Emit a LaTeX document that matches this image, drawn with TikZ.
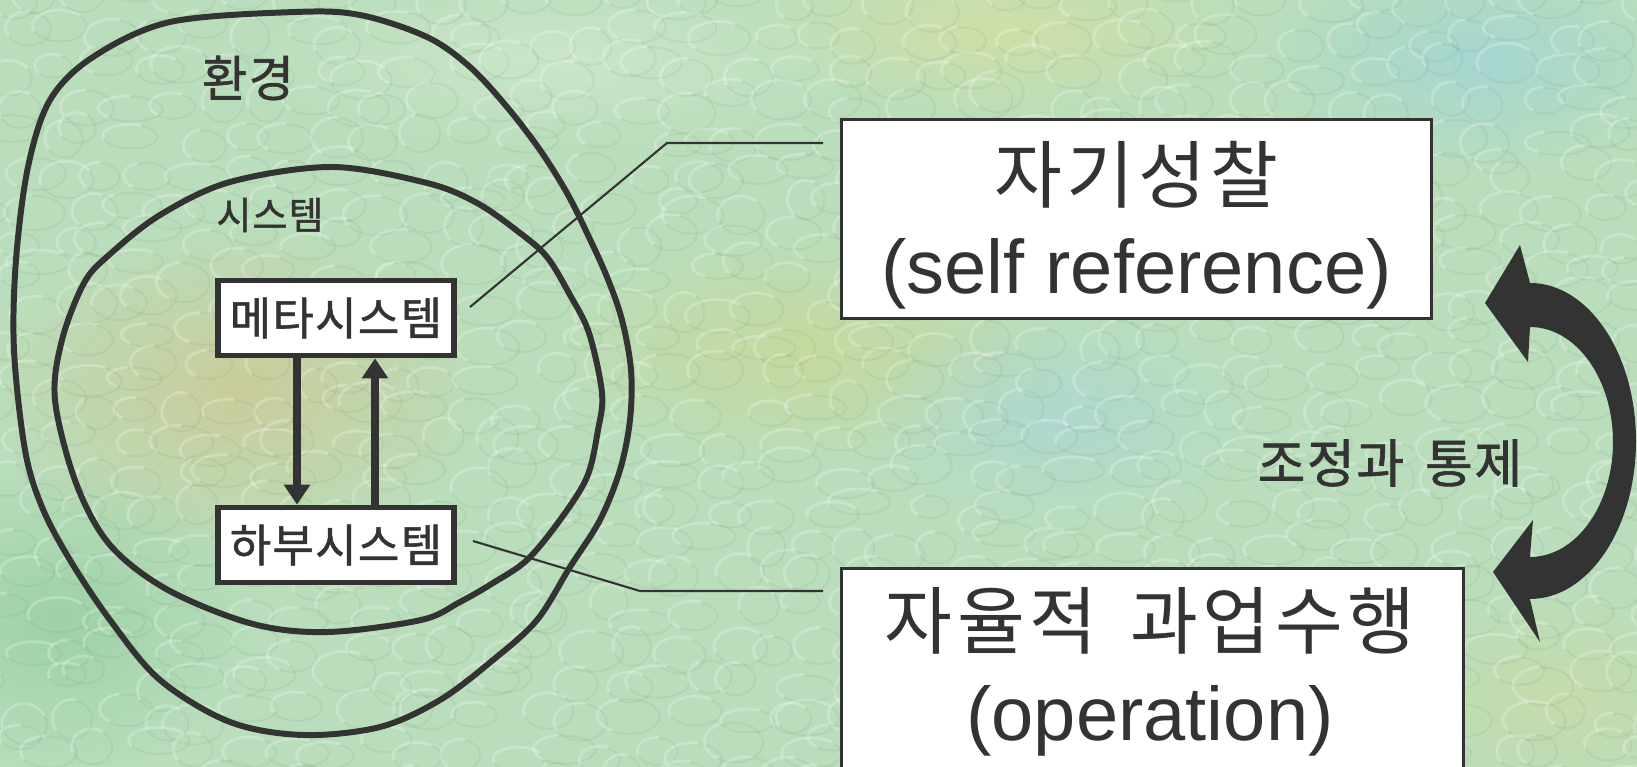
\documentclass[tikz,border=0pt]{standalone}
\usepackage{fontspec}
\setmainfont{Liberation Sans}
\newfontfamily\kr[FakeBold=1.2,LetterSpace=3]{Noto Sans CJK KR}
\newfontfamily\krwide[LetterSpace=6]{Noto Sans CJK KR}
\usetikzlibrary{arrows.meta,fadings}
\tikzfading[name=softspot,inner color=transparent!0,outer color=transparent!100]
\definecolor{ink}{RGB}{51,51,51}
\definecolor{bgbase}{RGB}{186,222,188}
\definecolor{ochre}{RGB}{206,200,146}
\definecolor{lime}{RGB}{200,216,150}
\definecolor{straw}{RGB}{214,222,160}
\definecolor{sky}{RGB}{160,212,214}
\definecolor{teal}{RGB}{172,214,212}
\definecolor{mint}{RGB}{208,232,204}
\definecolor{moss}{RGB}{150,206,162}
\definecolor{sage}{RGB}{200,218,168}
\definecolor{shadow}{RGB}{90,130,95}
\tikzset{
  blob/.style={fill=#1,path fading=softspot,fill opacity=0.8},
  cellglow/.style={draw=white,line width=0.8pt,draw opacity=0.24,line cap=round},
  cellshade/.style={draw=shadow,line width=0.6pt,draw opacity=0.09,line cap=round},
  rim/.style={draw=ink,line width=1.7pt},
  sysbox/.style={draw=ink,line width=1.6pt,fill=white,minimum width=23.6mm,minimum height=7.5mm,inner sep=0pt,text=ink,font=\kr\fontsize{12.8pt}{15pt}\selectfont},
  bigbox/.style={draw=ink,line width=0.9pt,fill=white,inner sep=0pt},
  bigtext/.style={align=center,inner sep=0pt,text=ink,font=\fontsize{21.6pt}{26pt}\selectfont},
  flow/.style={draw=ink,line width=2pt,-{Triangle[length=5.7pt,width=7.2pt]}},
  leader/.style={draw=ink,line width=0.6pt},
}

\begin{document}
\begin{tikzpicture}[x=0.1mm,y=-0.1mm]
\useasboundingbox (0,0) rectangle (1637,767);
\fill[bgbase] (0,0) rectangle (1637,767);
\fill[blob=ochre] (240,390) ellipse (260 and 170);
\fill[blob=lime] (800,350) ellipse (260 and 120);
\fill[blob=straw] (1000,30) ellipse (260 and 90);
\fill[blob=sky] (1480,60) ellipse (220 and 110);
\fill[blob=teal] (1060,420) ellipse (200 and 110);
\fill[blob=mint] (560,60) ellipse (320 and 90);
\fill[blob=moss] (60,620) ellipse (200 and 160);
\fill[blob=sage] (1560,700) ellipse (200 and 120);
% pebbled surface: lit upper rim and shaded lower rim of each cell
\pgfmathsetseed{11}
\foreach \i in {0,...,35}
  \foreach \j in {0,...,23} {
    \pgfmathsetmacro\cx{\i*47+mod(\j,2)*23+rand*20}
    \pgfmathsetmacro\cy{\j*34+rand*12}
    \pgfmathsetmacro\rx{18+rnd*14}
    \pgfmathsetmacro\ry{11+rnd*9}
    \pgfmathsetmacro\sa{120+rnd*50}
    \pgfmathsetmacro\ea{\sa+110+rnd*60}
    \pgfmathsetmacro\ax{\cx+\rx*cos(\sa)}
    \pgfmathsetmacro\ay{\cy+\ry*sin(\sa)}
    \pgfmathsetmacro\bx{\cx+\rx*cos(\ea)+1}
    \pgfmathsetmacro\by{\cy+\ry*sin(\ea)+1}
    \draw[cellglow] (\ax,\ay) arc[start angle=\sa,end angle=\ea,x radius=\rx,y radius=\ry];
    \draw[cellshade] (\bx,\by) arc[start angle=\ea,end angle=\sa+360,x radius=\rx,y radius=\ry];
  }

\draw[rim] plot[smooth cycle,tension=0.55] coordinates {(295,12) (360,15) (427,37) (470,67) (507,107) (540,150) (567,193) (587,233) (607,277) (622,320) (631,370) (630,420) (620,470) (600,520) (570,567) (537,620) (493,660) (440,700) (380,727) (303,735) (230,722) (160,680) (110,620) (70,560) (42,507) (25,450) (14,350) (16,260) (28,167) (50,100) (93,57) (170,22)};
\draw[rim] plot[smooth cycle,tension=0.55] coordinates {(332,167) (427,183) (477,203) (520,233) (547,257) (570,295) (589,333) (602,393) (598,430) (587,477) (560,520) (527,560) (493,583) (460,602) (421,620) (328,632) (253,624) (168,590) (110,545) (76,483) (55,400) (62,340) (84,283) (109,255) (160,215) (230,182)};

\node[text=ink,font=\kr\fontsize{14pt}{16pt}\selectfont] (env) at (248,78) {환경};
\node[text=ink,font=\kr\fontsize{10.8pt}{13pt}\selectfont] (sys) at (270,215) {시스템};
\node[sysbox] (meta) at (336,318) {메타시스템};
\node[sysbox] (sub) at (336,545) {하부시스템};
\draw[flow] ([xshift=-3.9mm]meta.south) -- ([xshift=-3.9mm]sub.north);
\draw[flow] ([xshift=3.9mm]sub.north) -- ([xshift=3.9mm]meta.south);

\node[bigbox,minimum width=59mm,minimum height=19.9mm] (selfref) at (1136.5,219) {};
\node[bigtext] (selftext) at (1136.5,225) {{\krwide\fontsize{21pt}{26pt}\selectfont 자기성찰}\\(self reference)};
\node[bigbox,minimum width=62.2mm,minimum height=21.1mm] (oper) at (1152.5,674) {};
\node[bigtext] (opertext) at (1150,672) {{\krwide\fontsize{21pt}{26pt}\selectfont 자율적\hspace{0.45em}과업수행}\\(operation)};

\coordinate (metatip) at (470,307);
\coordinate (selfbend) at (667,143);
\coordinate (selftip) at (823,143);
\coordinate (subtip) at (473,541);
\coordinate (operbend) at (640,591);
\coordinate (opertip) at (823,591);
\draw[leader] (metatip) -- (selfbend) -- (selftip);
\draw[leader] (subtip) -- (operbend) -- (opertip);

\fill[ink] (1530,283) arc[start angle=-90,end angle=90,x radius=106,y radius=158] -- (1540,642) -- (1493,572) -- (1533,520) -- (1530,557) arc[start angle=90,end angle=-90,x radius=83,y radius=115] -- (1528,362) -- (1485,303) -- (1520,245) -- cycle;
\node[text=ink,font=\kr\fontsize{14.8pt}{17pt}\selectfont] (ctrl) at (1390,463) {조정과\hspace{0.4em}통제};
\end{tikzpicture}
\end{document}
